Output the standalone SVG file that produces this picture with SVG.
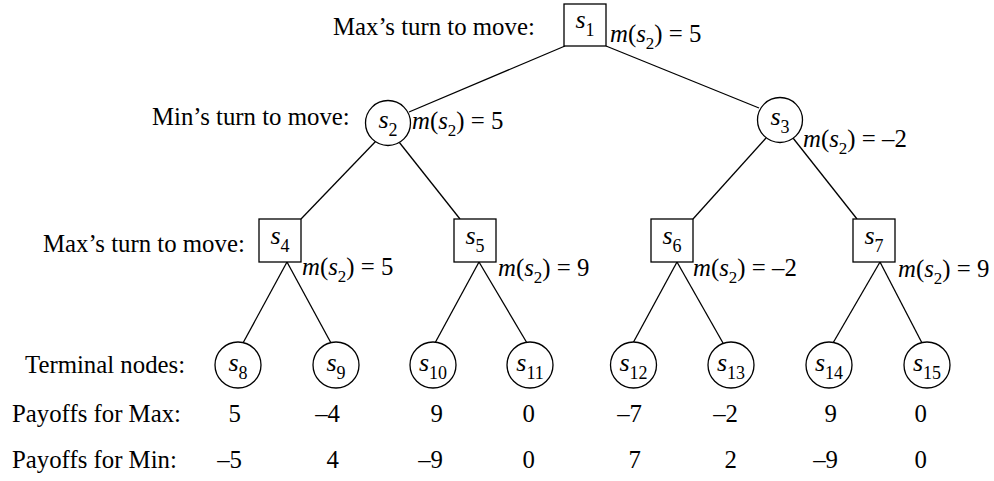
<svg xmlns="http://www.w3.org/2000/svg" width="994" height="481" viewBox="0 0 994 481">
<style>
  text { font-family: "Liberation Serif", "Times New Roman", serif; font-size: 24.8px; fill: #000; }
  .it { font-style: italic; }
  .sub { font-size: 17px; font-style: normal; }
  .nl { font-size: 26px; text-anchor: middle; }
  .nl .sub { font-size: 18px; }
  .num { text-anchor: end; }
  .box { fill: #fff; stroke: #000; stroke-width: 1.3; }
  .edge { stroke: #000; stroke-width: 1.3; fill: none; }
</style>
<rect width="994" height="481" fill="#fff"/>
<g id="connectors">
  <line class="edge" x1="565" y1="46" x2="409" y2="112"/>
  <line class="edge" x1="606" y1="46" x2="759" y2="108"/>
  <line class="edge" x1="376" y1="141" x2="301" y2="219"/>
  <line class="edge" x1="399" y1="142" x2="460" y2="219"/>
  <line class="edge" x1="766" y1="138" x2="693" y2="219"/>
  <line class="edge" x1="793" y1="138" x2="857" y2="219"/>
  <line class="edge" x1="287" y1="262" x2="243" y2="343"/>
  <line class="edge" x1="287" y1="262" x2="331" y2="343"/>
  <line class="edge" x1="479" y1="262" x2="435" y2="343"/>
  <line class="edge" x1="479" y1="262" x2="527" y2="343"/>
  <line class="edge" x1="677" y1="262" x2="633" y2="343"/>
  <line class="edge" x1="677" y1="262" x2="723" y2="343"/>
  <line class="edge" x1="880" y1="262" x2="833" y2="343"/>
  <line class="edge" x1="880" y1="262" x2="922" y2="343"/>
</g>
<g id="labels">
  <text x="333" y="35">Max’s turn to move:</text>
  <text x="152" y="125">Min’s turn to move:</text>
  <text x="43" y="252">Max’s turn to move:</text>
  <text x="25" y="373">Terminal nodes:</text>
  <text x="12" y="422">Payoffs for Max:</text>
  <text x="12" y="468">Payoffs for Min:</text>
</g>
<g id="s1">
  <rect class="box" x="564" y="4" width="42" height="42"/>
  <text class="nl" x="585" y="28"><tspan class="it">s</tspan><tspan class="sub" dy="8">1</tspan></text>
  <text x="610" y="42"><tspan class="it">m</tspan>(<tspan class="it">s</tspan><tspan class="sub" dy="7">2</tspan><tspan dy="-7">) = 5</tspan></text>
</g>
<g id="s2">
  <circle class="box" cx="388" cy="123" r="22.5"/>
  <text class="nl" x="388" y="128"><tspan class="it">s</tspan><tspan class="sub" dy="8">2</tspan></text>
  <text x="412" y="129"><tspan class="it">m</tspan>(<tspan class="it">s</tspan><tspan class="sub" dy="7">2</tspan><tspan dy="-7">) = 5</tspan></text>
</g>
<g id="s3">
  <circle class="box" cx="780" cy="120" r="22.5"/>
  <text class="nl" x="780" y="125"><tspan class="it">s</tspan><tspan class="sub" dy="8">3</tspan></text>
  <text x="803" y="147"><tspan class="it">m</tspan>(<tspan class="it">s</tspan><tspan class="sub" dy="7">2</tspan><tspan dy="-7">) = –2</tspan></text>
</g>
<g id="s4">
  <rect class="box" x="259" y="219" width="42" height="43"/>
  <text class="nl" x="280" y="244"><tspan class="it">s</tspan><tspan class="sub" dy="8">4</tspan></text>
  <text x="302" y="275"><tspan class="it">m</tspan>(<tspan class="it">s</tspan><tspan class="sub" dy="7">2</tspan><tspan dy="-7">) = 5</tspan></text>
</g>
<g id="s5">
  <rect class="box" x="454" y="219" width="42" height="43"/>
  <text class="nl" x="475" y="244"><tspan class="it">s</tspan><tspan class="sub" dy="8">5</tspan></text>
  <text x="498" y="276"><tspan class="it">m</tspan>(<tspan class="it">s</tspan><tspan class="sub" dy="7">2</tspan><tspan dy="-7">) = 9</tspan></text>
</g>
<g id="s6">
  <rect class="box" x="651" y="219" width="42" height="43"/>
  <text class="nl" x="672" y="244"><tspan class="it">s</tspan><tspan class="sub" dy="8">6</tspan></text>
  <text x="693" y="276"><tspan class="it">m</tspan>(<tspan class="it">s</tspan><tspan class="sub" dy="7">2</tspan><tspan dy="-7">) = –2</tspan></text>
</g>
<g id="s7">
  <rect class="box" x="853" y="219" width="42" height="43"/>
  <text class="nl" x="874" y="244"><tspan class="it">s</tspan><tspan class="sub" dy="8">7</tspan></text>
  <text x="898" y="277"><tspan class="it">m</tspan>(<tspan class="it">s</tspan><tspan class="sub" dy="7">2</tspan><tspan dy="-7">) = 9</tspan></text>
</g>
<g id="s8">
  <circle class="box" cx="238" cy="365" r="23"/>
  <text class="nl" x="238" y="371"><tspan class="it">s</tspan><tspan class="sub" dy="8">8</tspan></text>
</g>
<g id="s9">
  <circle class="box" cx="336" cy="365" r="23"/>
  <text class="nl" x="336" y="371"><tspan class="it">s</tspan><tspan class="sub" dy="8">9</tspan></text>
</g>
<g id="s10">
  <circle class="box" cx="433" cy="365" r="23"/>
  <text class="nl" x="433" y="371"><tspan class="it">s</tspan><tspan class="sub" dy="8">10</tspan></text>
</g>
<g id="s11">
  <circle class="box" cx="530" cy="365" r="23"/>
  <text class="nl" x="530" y="371"><tspan class="it">s</tspan><tspan class="sub" dy="8">11</tspan></text>
</g>
<g id="s12">
  <circle class="box" cx="633.5" cy="365" r="23"/>
  <text class="nl" x="633.5" y="371"><tspan class="it">s</tspan><tspan class="sub" dy="8">12</tspan></text>
</g>
<g id="s13">
  <circle class="box" cx="731" cy="365" r="23"/>
  <text class="nl" x="731" y="371"><tspan class="it">s</tspan><tspan class="sub" dy="8">13</tspan></text>
</g>
<g id="s14">
  <circle class="box" cx="829" cy="365" r="23"/>
  <text class="nl" x="829" y="371"><tspan class="it">s</tspan><tspan class="sub" dy="8">14</tspan></text>
</g>
<g id="s15">
  <circle class="box" cx="927" cy="365" r="23"/>
  <text class="nl" x="927" y="371"><tspan class="it">s</tspan><tspan class="sub" dy="8">15</tspan></text>
</g>
<g id="payoffs">
  <text class="num" x="241" y="422">5</text>
  <text class="num" x="340" y="422">–4</text>
  <text class="num" x="443" y="422">9</text>
  <text class="num" x="535" y="422">0</text>
  <text class="num" x="642" y="422">–7</text>
  <text class="num" x="738" y="422">–2</text>
  <text class="num" x="837" y="422">9</text>
  <text class="num" x="927" y="422">0</text>
  <text class="num" x="242" y="468">–5</text>
  <text class="num" x="339" y="468">4</text>
  <text class="num" x="443" y="468">–9</text>
  <text class="num" x="535" y="468">0</text>
  <text class="num" x="641" y="468">7</text>
  <text class="num" x="737" y="468">2</text>
  <text class="num" x="838" y="468">–9</text>
  <text class="num" x="927" y="468">0</text>
</g>
</svg>
